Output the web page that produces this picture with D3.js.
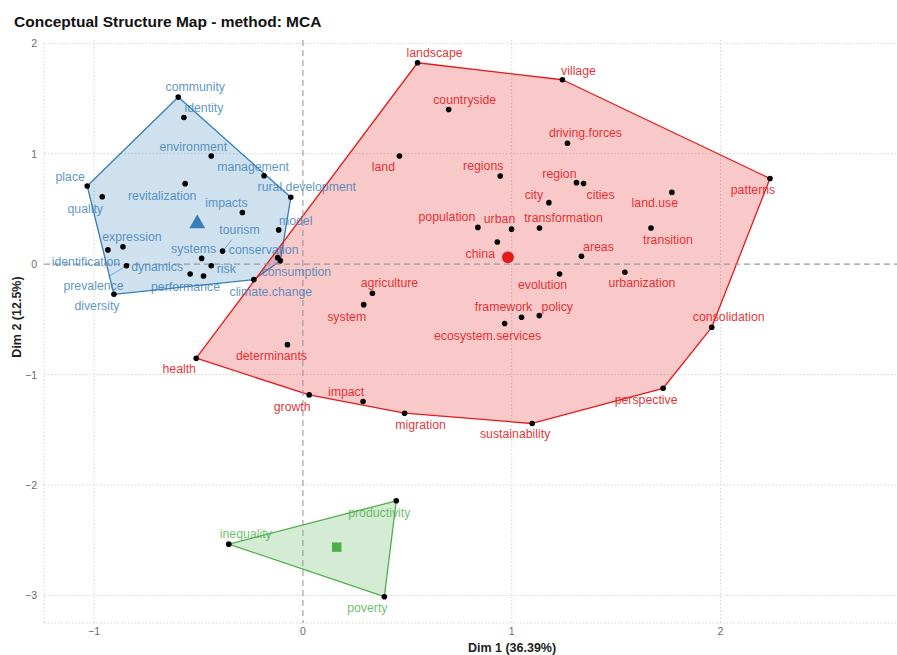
<!DOCTYPE html>
<html>
<head>
<meta charset="utf-8">
<script src="https://cdn.jsdelivr.net/npm/d3@7/dist/d3.min.js"></script>
<style>
  html, body { margin: 0; padding: 0; background: #fff; }
  svg { display: block; font-family: "Liberation Sans", Arial, sans-serif; }
</style>
</head>
<body>
<svg id="chart" width="897" height="655"></svg>
<script>
// ---- Data: MCA coordinates (Dim 1, Dim 2) of each word, by cluster ----
const cluster1Words = ["community","identity","environment","management","place","revitalization",
  "rural.development","quality","impacts","model","tourism","expression","identification","systems",
  "conservation","consumption","prevalence","risk","dynamics","performance","climate.change","diversity"];
const cluster1Dim1 = [-0.597,-0.570,-0.439,-0.186,-1.033,-0.564,-0.058,-0.961,-0.290,-0.116,-0.385,
  -0.862,-0.934,-0.485,-0.121,-0.108,-0.845,-0.439,-0.540,-0.476,-0.235,-0.905];
const cluster1Dim2 = [1.513,1.328,0.979,0.801,0.708,0.729,0.605,0.611,0.468,0.310,0.118,
  0.157,0.129,0.052,0.059,0.030,-0.014,-0.014,-0.089,-0.107,-0.140,-0.273];

const cluster2Words = ["landscape","village","countryside","driving.forces","land","regions","region",
  "cities","city","land.use","patterns","population","urban","transformation","transition","china",
  "areas","evolution","urbanization","agriculture","system","framework","policy","ecosystem.services",
  "consolidation","determinants","health","perspective","growth","impact","migration","sustainability"];
const cluster2Dim1 = [0.549,1.243,0.698,1.267,0.462,0.945,1.310,1.344,1.178,1.767,2.237,0.838,0.999,
  1.133,1.667,0.931,1.334,1.229,1.542,0.333,0.291,1.047,1.132,0.966,1.958,-0.074,-0.511,1.725,
  0.030,0.288,0.487,1.098];
const cluster2Dim2 = [1.824,1.670,1.401,1.095,0.979,0.798,0.738,0.730,0.557,0.650,0.776,0.333,0.317,
  0.328,0.328,0.201,0.071,-0.089,-0.074,-0.264,-0.367,-0.481,-0.466,-0.538,-0.572,-0.729,-0.852,
  -1.124,-1.184,-1.244,-1.350,-1.443];

const cluster3Words = ["productivity","inequality","poverty"];
const cluster3Dim1 = [0.447,-0.355,0.390];
const cluster3Dim2 = [-2.143,-2.536,-3.012];

// cluster centroids (Dim 1, Dim 2)
const centroidDim1 = [-0.506, 0.982, 0.162];
const centroidDim2 = [0.367, 0.062, -2.563];

// axis ticks and titles
const xTicks = [-1, 0, 1, 2];
const yTicks = [-3, -2, -1, 0, 1, 2];
const chartTitle = "Conceptual Structure Map - method: MCA";
const xTitle = "Dim 1 (36.39%)";
const yTitle = "Dim 2 (12.5%)";

// ---- Layout / style ----
const colors = ["#377EB8", "#E41A1C", "#4DAF4A"];
const centroidShapes = [d3.symbolTriangle, d3.symbolCircle, d3.symbolSquare];
const centroidSizes = [110, 110, 90];

// label offsets (px) from each point, as arranged by the repel step
const labelNudge = {
  "community":[17,-10],"identity":[20,-10],"environment":[-18,-9],"management":[-11,-9],
  "place":[-17,-9],"revitalization":[-23,12],"rural.development":[16,-10],"quality":[-17,12],
  "impacts":[-16,-9],"model":[17,-9],"tourism":[17,-21],"expression":[9,-10],
  "identification":[-22,12],"systems":[-8,-9],"conservation":[-14,-8],"consumption":[16,11],
  "prevalence":[-33,20],"risk":[15,3],"dynamics":[-33,-7],"performance":[-18,11],
  "climate.change":[17,12],"diversity":[-17,12],
  "landscape":[17,-10],"village":[16,-9],"countryside":[16,-9],"driving.forces":[18,-10],
  "land":[-16,11],"regions":[-17,-10],"region":[-17,-9],"cities":[17,11],"city":[-15,-8],
  "land.use":[-17,11],"patterns":[-17,12],"population":[-31,-10],"urban":[-12,-10],
  "transformation":[24,-10],"transition":[17,12],"china":[-17,12],"areas":[17,-9],
  "evolution":[-17,11],"urbanization":[17,11],"agriculture":[17,-10],"system":[-17,12],
  "framework":[-18,-10],"policy":[18,-9],"ecosystem.services":[-17,12],"consolidation":[17,-10],
  "determinants":[-16,11],"health":[-17,11],"perspective":[-17,12],"growth":[-17,12],
  "impact":[-17,-10],"migration":[16,12],"sustainability":[-17,11],
  "productivity":[-17,12],"inequality":[17,-10],"poverty":[-17,11]
};
const withSegment = new Set(["tourism", "prevalence"]);

const W = 897, H = 655;
const panel = { left: 44, right: 898, top: 40, bottom: 623 };

const x = d3.scaleLinear().domain([-1.24, 2.85]).range([panel.left, panel.right]);
const y = d3.scaleLinear().domain([2.03, -3.25]).range([panel.top, panel.bottom]);

const svg = d3.select("#chart");

// build per-cluster point lists
const clusters = [
  [cluster1Words, cluster1Dim1, cluster1Dim2],
  [cluster2Words, cluster2Dim1, cluster2Dim2],
  [cluster3Words, cluster3Dim1, cluster3Dim2]
].map(([w, d1, d2], ci) => w.map((word, i) => ({ word, d1: d1[i], d2: d2[i], c: ci })));

// ---- grid ----
const grid = svg.append("g").attr("class", "grid");
grid.selectAll("line.gx").data(xTicks.filter(t => t !== 0)).join("line")
  .attr("x1", d => x(d)).attr("x2", d => x(d))
  .attr("y1", panel.top).attr("y2", panel.bottom)
  .attr("stroke", "#d4d4d4").attr("stroke-width", 1).attr("stroke-dasharray", "1.5,2");
grid.selectAll("line.gy").data(yTicks.filter(t => t !== 0)).join("line")
  .attr("x1", panel.left).attr("x2", panel.right)
  .attr("y1", d => y(d)).attr("y2", d => y(d))
  .attr("stroke", "#d4d4d4").attr("stroke-width", 1).attr("stroke-dasharray", "1.5,2");
// panel edges
grid.append("line").attr("x1", panel.left).attr("x2", panel.left)
  .attr("y1", y(2)).attr("y2", panel.bottom)
  .attr("stroke", "#d4d4d4").attr("stroke-dasharray", "1.5,2");
grid.append("line").attr("x1", panel.left).attr("x2", panel.right)
  .attr("y1", panel.bottom).attr("y2", panel.bottom)
  .attr("stroke", "#d4d4d4").attr("stroke-dasharray", "1.5,2");

// ---- cluster hulls ----
const hullG = svg.append("g");
clusters.forEach((pts, ci) => {
  const hull = d3.polygonHull(pts.map(p => [x(p.d1), y(p.d2)]));
  hullG.append("path")
    .attr("d", "M" + hull.join("L") + "Z")
    .attr("fill", colors[ci]).attr("fill-opacity", 0.24)
    .attr("stroke", colors[ci]).attr("stroke-width", 1.3).attr("stroke-linejoin", "round");
});

// ---- zero reference lines ----
svg.append("line").attr("x1", x(0)).attr("x2", x(0))
  .attr("y1", panel.top).attr("y2", panel.bottom)
  .attr("stroke", "#9a9a9a").attr("stroke-width", 1.1).attr("stroke-dasharray", "6,4");
svg.append("line").attr("x1", panel.left).attr("x2", panel.right)
  .attr("y1", y(0)).attr("y2", y(0))
  .attr("stroke", "#9a9a9a").attr("stroke-width", 1.1).attr("stroke-dasharray", "6,4");

// ---- label leader segments ----
const allPts = clusters.flat();
svg.append("g").selectAll("line").data(allPts.filter(p => withSegment.has(p.word))).join("line")
  .attr("x1", p => x(p.d1)).attr("y1", p => y(p.d2))
  .attr("x2", p => x(p.d1) + labelNudge[p.word][0] * 0.55)
  .attr("y2", p => y(p.d2) + labelNudge[p.word][1] * 0.55)
  .attr("stroke", p => colors[p.c]).attr("stroke-opacity", 0.7).attr("stroke-width", 0.8);

// ---- points ----
svg.append("g").selectAll("circle").data(allPts).join("circle")
  .attr("cx", p => x(p.d1)).attr("cy", p => y(p.d2)).attr("r", 2.8)
  .attr("fill", "#000");

// ---- centroids ----
svg.append("g").selectAll("path").data(centroidDim1).join("path")
  .attr("transform", (d, i) => `translate(${x(d)},${y(centroidDim2[i])})`)
  .attr("d", (d, i) => d3.symbol().type(centroidShapes[i]).size(centroidSizes[i])())
  .attr("fill", (d, i) => colors[i]);

// ---- word labels ----
svg.append("g").selectAll("text").data(allPts).join("text")
  .attr("x", p => x(p.d1) + labelNudge[p.word][0])
  .attr("y", p => y(p.d2) + labelNudge[p.word][1])
  .attr("text-anchor", "middle").attr("dominant-baseline", "central")
  .attr("font-size", 12.3)
  .attr("fill", p => colors[p.c]).attr("fill-opacity", p => p.c === 1 ? 0.92 : 0.82)
  .text(p => p.word);

// ---- axes ----
const tickColor = "#6b6b6b";
svg.append("g").selectAll("text").data(xTicks).join("text")
  .attr("x", d => x(d)).attr("y", 635)
  .attr("text-anchor", "middle").attr("font-size", 10.5).attr("fill", tickColor)
  .text(d => d3.format("d")(d));
svg.append("g").selectAll("text").data(yTicks).join("text")
  .attr("x", 37).attr("y", d => y(d)).attr("dominant-baseline", "central")
  .attr("text-anchor", "end").attr("font-size", 10.5).attr("fill", tickColor)
  .text(d => d3.format("d")(d));

svg.append("text").attr("x", 512).attr("y", 652)
  .attr("text-anchor", "middle").attr("font-size", 12.5).attr("font-weight", "bold")
  .attr("fill", "#222").text(xTitle);
svg.append("text")
  .attr("transform", `translate(21,317) rotate(-90)`)
  .attr("text-anchor", "middle").attr("font-size", 12.5).attr("font-weight", "bold")
  .attr("fill", "#222").text(yTitle);

svg.append("text").attr("x", 14).attr("y", 27)
  .attr("font-size", 15.5).attr("font-weight", "bold").attr("fill", "#111")
  .text(chartTitle);
</script>
</body>
</html>
